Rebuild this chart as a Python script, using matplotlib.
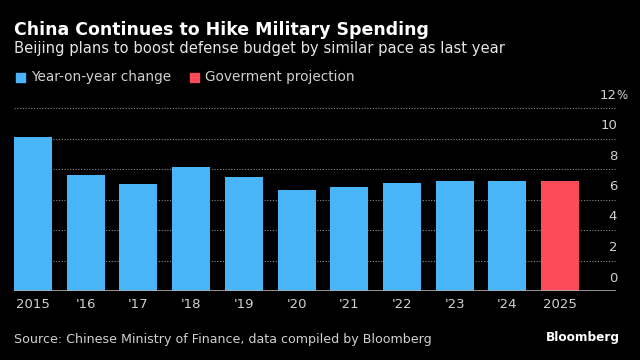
import matplotlib
matplotlib.use("Agg")
import matplotlib.pyplot as plt
from matplotlib.patches import Rectangle
import matplotlib.transforms as mtransforms

# China defense budget, year-on-year change (%)
years = ["2015", "'16", "'17", "'18", "'19", "'20", "'21", "'22", "'23", "'24", "2025"]
growth = [10.1, 7.6, 7.0, 8.1, 7.5, 6.6, 6.8, 7.1, 7.2, 7.2, 7.2]
is_projection = [False] * 10 + [True]
y_ticks = [0, 2, 4, 6, 8, 10, 12]

BLUE = "#48b5f8"
RED = "#fc4c5a"
BG = "#000000"
TEXT = "#d0d0d0"

plt.rcParams["font.family"] = ["DejaVu Sans"]

fig = plt.figure(figsize=(6.4, 3.6), dpi=100, facecolor=BG)
ax = fig.add_axes([14 / 640, 69 / 360, 602 / 640, 183 / 360])
ax.set_facecolor(BG)

colors = [RED if p else BLUE for p in is_projection]
x = list(range(len(years)))
ax.bar(x, growth, width=0.72, color=colors, zorder=3)

ax.set_xlim(-0.36, 11.06)
ax.set_ylim(0, 12)

# dotted gridlines behind the bars, solid baseline
for v in y_ticks[1:]:
    ax.axhline(v, color="#8a8a8a", lw=0.8, linestyle=(0, (1.0, 1.5)), zorder=1)
ax.axhline(0, color="#b0b0b0", lw=1.2, zorder=4)

# y labels sit just above each gridline on the right
offset = mtransforms.offset_copy(ax.get_yaxis_transform(), fig=fig, x=1, y=13, units="dots")
for v in y_ticks:
    ax.text(1.0, v, str(v), transform=offset, ha="right", va="center",
            color=TEXT, fontsize=9.5)
pct = mtransforms.offset_copy(ax.get_yaxis_transform(), fig=fig, x=0, y=13, units="dots")
ax.text(1.0, 12, "%", transform=pct, ha="left", va="center",
        color=TEXT, fontsize=8.5)

ax.set_xticks(x, years)
ax.tick_params(axis="x", length=0, colors=TEXT, labelsize=9.5, pad=5)
ax.set_yticks([])
for spine in ax.spines.values():
    spine.set_visible(False)

# header
fig.text(14 / 640, 1 - 30 / 360, "China Continues to Hike Military Spending",
         color="white", fontsize=12.5, fontweight="bold", va="center", ha="left")
fig.text(14 / 640, 1 - 49 / 360, "Beijing plans to boost defense budget by similar pace as last year",
         color="#e6e6e6", fontsize=10.65, va="center", ha="left")

# legend
legend_items = [("Year-on-year change", BLUE, 16), ("Goverment projection", RED, 190)]
for label, color, px in legend_items:
    fig.patches.append(Rectangle((px / 640, 1 - 81.5 / 360), 9 / 640, 9 / 360,
                                 transform=fig.transFigure, color=color))
    fig.text((px + 15) / 640, 1 - 77 / 360, label, color=TEXT, fontsize=9.8,
             va="center", ha="left")

# footer
fig.text(14 / 640, 1 - 340 / 360, "Source: Chinese Ministry of Finance, data compiled by Bloomberg",
         color=TEXT, fontsize=9.1, va="center", ha="left")
fig.text(620 / 640, 1 - 338 / 360, "Bloomberg", color="white", fontsize=8.7,
         fontweight="bold", va="center", ha="right")

fig.savefig("out.png", dpi=100, facecolor=BG)
